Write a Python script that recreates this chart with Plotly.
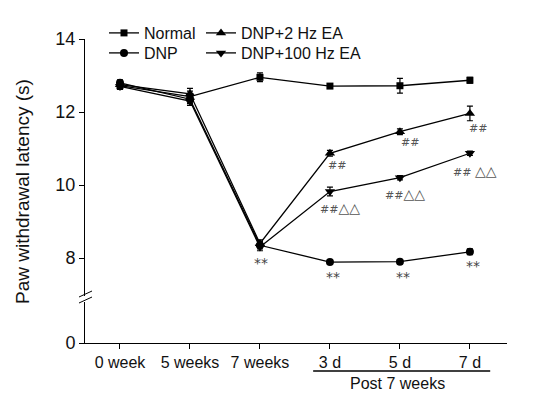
import plotly.graph_objects as go

# ---------------- data ----------------
x_labels = ["0 week", "5 weeks", "7 weeks", "3 d", "5 d", "7 d"]
x_pos = [0, 1, 2, 3, 4, 5]

normal = [12.72, 12.42, 12.95, 12.71, 12.72, 12.87]
normal_err = [0.10, 0.15, 0.12, 0.05, 0.20, 0.08]

dnp = [12.80, 12.35, 8.35, 7.89, 7.90, 8.17]
dnp_err = [0.08, 0.12, 0.10, 0.06, 0.06, 0.08]

ea2 = [12.75, 12.50, 8.40, 10.87, 11.46, 11.96]
ea2_err = [0.08, 0.15, 0.10, 0.08, 0.08, 0.20]

ea100 = [12.70, 12.30, 8.30, 9.82, 10.20, 10.87]
ea100_err = [0.08, 0.12, 0.10, 0.12, 0.06, 0.06]

TRI = '<span style="font-size:14px">△△</span>'
# significance labels: (x index, series, text, xshift, yshift)
sig_labels = [
    (2, "dnp", "**", 1, -18),
    (3, "dnp", "**", 3, -15),
    (4, "dnp", "**", 3, -15),
    (5, "dnp", "**", 3, -14),
    (3, "ea2", "<i>##</i>", 7, -12),
    (4, "ea2", "<i>##</i>", 10, -11),
    (5, "ea2", "<i>##</i>", 8, -15),
    (3, "ea100", "<i>##</i>" + TRI, 10, -16),
    (4, "ea100", "<i>##</i>" + TRI, 5, -16),
    (5, "ea100", "<i>##</i> " + TRI, 5, -18),
]

FONT = "Liberation Sans, Arial, DejaVu Sans, sans-serif"
series = {"normal": normal, "dnp": dnp, "ea2": ea2, "ea100": ea100}

# page body has an 8px margin -> figure is drawn 8px smaller and offset
W, H = 549, 393
PL, PT, PR, PB = 85 - 8, 39 - 8, 50, 58
PLOT_W, PLOT_H = W - PL - PR, H - PT - PB  # 422 x 304


def px_x(px):  # reference pixel -> paper x
    return (px - 85) / PLOT_W


def px_y(py):  # reference pixel -> paper y
    return (343 - py) / PLOT_H


fig = go.Figure()


def add(name, y, err, symbol, size, legend):
    fig.add_trace(go.Scatter(
        x=x_pos, y=y, name=name, mode="lines+markers",
        line=dict(color="black", width=1.3),
        marker=dict(symbol=symbol, size=size, color="black"),
        error_y=dict(type="data", array=err, visible=True, color="black",
                     thickness=1.2, width=3),
        legend=legend, xaxis="x", yaxis="y",
    ))


add("Normal", normal, normal_err, "square", 7, "legend")
add("DNP", dnp, dnp_err, "circle", 8, "legend2")
add("DNP+2 Hz EA", ea2, ea2_err, "triangle-up", 9, "legend3")
add("DNP+100 Hz EA", ea100, ea100_err, "triangle-down", 9, "legend4")

# invisible trace so the lower (broken) y-axis segment is built
fig.add_trace(go.Scatter(x=[None], y=[None], xaxis="x", yaxis="y2",
                         showlegend=False, hoverinfo="skip"))

annotations = []
for xi, s, txt, dx, dy in sig_labels:
    is_star = txt == "**"
    annotations.append(dict(
        x=x_pos[xi], y=series[s][xi], xref="x", yref="y", text=txt,
        showarrow=False, xshift=dx, yshift=dy,
        font=dict(family="DejaVu Sans, Liberation Sans",
                  size=11 if not is_star else 14, color="#555555" if not is_star else "#444444"),
    ))

# y-axis title
annotations.append(dict(
    x=px_x(22), y=px_y(192), xref="paper", yref="paper", xanchor="center", yanchor="middle",
    text="Paw withdrawal latency (s)", textangle=-90, showarrow=False,
    font=dict(family=FONT, size=19, color="#111111"),
))
# Post 7 weeks label
annotations.append(dict(
    x=3.97, y=px_y(383), xref="x", yref="paper", xanchor="center", yanchor="middle",
    text="Post 7 weeks", showarrow=False, font=dict(family=FONT, size=16, color="#111111"),
))

shapes = [
    # bracket line under post-7-week ticks
    dict(type="line", xref="x", yref="paper", x0=2.76, x1=5.29, y0=px_y(371), y1=px_y(371),
         line=dict(color="black", width=1.5)),
    # axis break marks
    dict(type="line", xref="paper", yref="paper", x0=px_x(79), x1=px_x(92),
         y0=px_y(297), y1=px_y(291), line=dict(color="black", width=1)),
    dict(type="line", xref="paper", yref="paper", x0=px_x(79), x1=px_x(92),
         y0=px_y(303), y1=px_y(297), line=dict(color="black", width=1)),
]

axis_common = dict(showline=True, linecolor="black", linewidth=1, ticks="outside",
                   ticklen=5, tickcolor="black", showgrid=False, zeroline=False,
                   tickfont=dict(family=FONT, size=18, color="#111111"))


def leg(px_left, py_center):
    return dict(x=px_x(px_left), y=px_y(py_center - 17), xanchor="left", yanchor="top",
                bgcolor="rgba(0,0,0,0)", font=dict(family=FONT, size=16, color="#111111"))


fig.update_layout(
    width=W, height=H,
    margin=dict(l=PL, r=PR, t=PT, b=PB, autoexpand=False),
    paper_bgcolor="white", plot_bgcolor="white",
    xaxis=dict(range=[-0.5, 5.53], tickvals=x_pos, ticktext=x_labels, anchor="y2",
               showline=True, linecolor="black", linewidth=1, ticks="outside",
               ticklen=5, tickcolor="black", showgrid=False, zeroline=False,
               tickfont=dict(family=FONT, size=16, color="#111111")),
    yaxis=dict(domain=[px_y(296), 1], range=[6.96, 14], tickvals=[8, 10, 12, 14],
               anchor="x", **axis_common),
    yaxis2=dict(domain=[0, px_y(302)], range=[0, 1], tickvals=[0], anchor="x",
                **axis_common),
    legend=leg(104, 33),
    legend2=leg(104, 53),
    legend3=leg(201, 33),
    legend4=leg(201, 53),
    annotations=annotations,
    shapes=shapes,
    showlegend=True,
)

fig.write_html("out.html")
